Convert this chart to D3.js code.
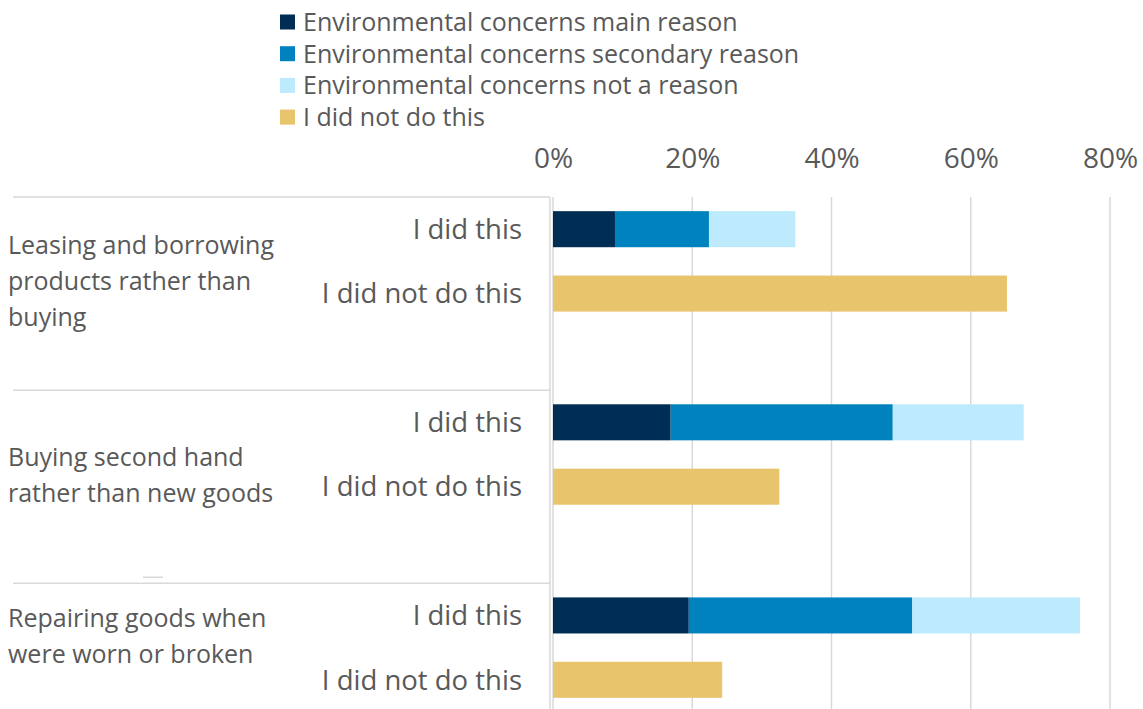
<!DOCTYPE html>
<html>
<head>
<meta charset="utf-8">
<script src="https://cdn.jsdelivr.net/npm/d3@7"></script>
<style>
  html, body { margin: 0; padding: 0; background: #fff; }
  svg { display: block; font-family: 'Open Sans', 'Noto Sans', sans-serif; }
</style>
</head>
<body>
<svg id="chart" width="1143" height="709"></svg>
<script>
// data (percent)
const groupLines = [
  ['Leasing and borrowing', 'products rather than', 'buying'],
  ['Buying second hand', 'rather than new goods'],
  ['Repairing goods when', 'were worn or broken']
];
const rowLabels = ['I did this', 'I did not do this'];
const seriesNames = [
  'Environmental concerns main reason',
  'Environmental concerns secondary reason',
  'Environmental concerns not a reason',
  'I did not do this'
];
const seriesColors = ['#002d54', '#0082be', '#bdeafc', '#e8c46c'];
const mainReason = [8.9, 16.9, 19.5];
const secondaryReason = [13.5, 31.9, 32.1];
const notReason = [12.4, 18.8, 24.1];
const didNotDo = [65.2, 32.5, 24.3];
const xTicks = [0, 20, 40, 60, 80];

const svg = d3.select('#chart');
const textColor = '#595959';
const gridColor = '#d9d9d9';

const x = d3.scaleLinear().domain([0, 80]).range([553, 1110]);

// rows: did / did not / gap, last group has no gap row
const rows = [];
groupLines.forEach((g, i) => {
  rows.push(`g${i}-did`, `g${i}-not`);
  if (i < groupLines.length - 1) rows.push(`g${i}-gap`);
});
const plotTop = 197;
const y = d3.scaleBand().domain(rows).range([plotTop, 712]).paddingInner(0.44).paddingOuter(0.22);
const step = y.step();

// gridlines
svg.append('g')
  .selectAll('line')
  .data(xTicks.slice(1))
  .join('line')
  .attr('x1', d => x(d)).attr('x2', d => x(d))
  .attr('y1', plotTop).attr('y2', 709)
  .attr('stroke', gridColor).attr('stroke-width', 1.5);

// top axis labels
const axis = svg.append('g')
  .attr('transform', `translate(0,${plotTop})`)
  .call(d3.axisTop(x).tickValues(xTicks).tickFormat(d => d + '%').tickSize(0).tickPadding(29));
axis.select('.domain').remove();
axis.selectAll('text')
  .attr('fill', textColor)
  .attr('font-size', 28)
  .attr('font-family', "'Open Sans', sans-serif");

// value axis line
svg.append('line')
  .attr('x1', x(0)).attr('x2', x(0))
  .attr('y1', plotTop).attr('y2', 709)
  .attr('stroke', gridColor).attr('stroke-width', 1.5);

// category frame
const frame = svg.append('g').attr('stroke', gridColor).attr('stroke-width', 1.5);
const bounds = groupLines.map((g, i) => plotTop + i * step * 3);
frame.selectAll('line.h')
  .data(bounds)
  .join('line')
  .attr('class', 'h')
  .attr('x1', 13).attr('x2', 550)
  .attr('y1', d => d).attr('y2', d => d);
frame.append('line')
  .attr('x1', 550).attr('x2', 550)
  .attr('y1', plotTop).attr('y2', 709);
frame.append('line')
  .attr('x1', 143).attr('x2', 163)
  .attr('y1', bounds[2] - 6).attr('y2', bounds[2] - 6);

// stacked "I did this" bars
const didData = groupLines.map((g, i) => ({
  key: `g${i}-did`, main: mainReason[i], secondary: secondaryReason[i], not: notReason[i]
}));
const stack = d3.stack().keys(['main', 'secondary', 'not'])(didData);

svg.append('g')
  .selectAll('g')
  .data(stack)
  .join('g')
  .attr('fill', (d, i) => seriesColors[i])
  .selectAll('rect')
  .data(d => d)
  .join('rect')
  .attr('x', d => x(d[0]))
  .attr('y', d => y(d.data.key))
  .attr('width', d => x(d[1]) - x(d[0]))
  .attr('height', y.bandwidth());

// "I did not do this" bars
svg.append('g')
  .selectAll('rect')
  .data(didNotDo)
  .join('rect')
  .attr('fill', seriesColors[3])
  .attr('x', x(0))
  .attr('y', (d, i) => y(`g${i}-not`))
  .attr('width', d => x(d) - x(0))
  .attr('height', y.bandwidth());

// row labels
const rowText = svg.append('g')
  .attr('fill', textColor)
  .attr('font-size', 27.5)
  .attr('text-anchor', 'end');
groupLines.forEach((g, i) => {
  ['did', 'not'].forEach((k, j) => {
    rowText.append('text')
      .attr('x', 522)
      .attr('y', y(`g${i}-${k}`) + y.bandwidth() / 2 + 9.8)
      .text(rowLabels[j]);
  });
});

// group labels
const groupText = svg.append('g')
  .attr('fill', textColor)
  .attr('font-size', 25);
groupLines.forEach((lines, i) => {
  const nRows = i < groupLines.length - 1 ? 3 : 2;
  const center = bounds[i] + nRows * step / 2 - 12;
  const first = center - (lines.length - 1) * 36 / 2;
  lines.forEach((line, j) => {
    groupText.append('text')
      .attr('x', 8)
      .attr('y', first + j * 36 + 8.9)
      .text(line);
  });
});

// legend
const legend = svg.append('g').attr('transform', 'translate(280,22)');
const item = legend.selectAll('g')
  .data(seriesNames)
  .join('g')
  .attr('transform', (d, i) => `translate(0,${i * 31.7})`);
item.append('rect')
  .attr('x', 0).attr('y', -7.5)
  .attr('width', 15).attr('height', 15)
  .attr('fill', (d, i) => seriesColors[i]);
item.append('text')
  .attr('x', 23).attr('y', 8.9)
  .attr('fill', textColor)
  .attr('font-size', 25)
  .text(d => d);
</script>
</body>
</html>
